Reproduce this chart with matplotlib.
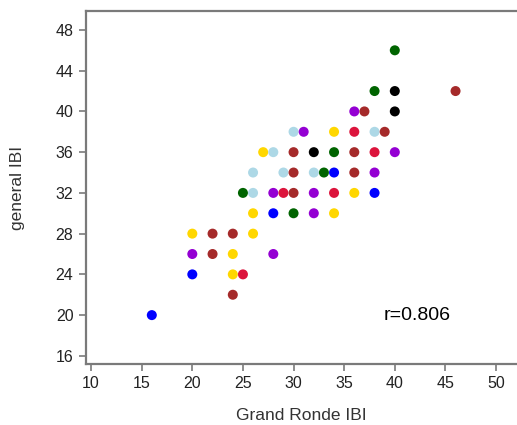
import matplotlib.pyplot as plt

plt.rcParams['font.family'] = ['Liberation Sans', 'DejaVu Sans']

# Grand Ronde IBI vs general IBI, one colour per group
grand_ronde = [16,
               20, 24, 25,
               24,
               20, 22, 24, 28,
               20, 22, 24, 26,
               26, 28, 30, 32, 34,
               25, 26, 28, 29, 30, 32, 34, 36, 38,
               26, 29, 30, 32, 33, 34, 36, 38,
               27, 28, 30, 32, 34, 36, 38, 40,
               30, 31, 34, 36, 38, 39,
               36, 37, 40,
               38, 40, 46,
               40]
general = [20,
           24, 24, 24,
           22,
           26, 26, 26, 26,
           28, 28, 28, 28,
           30, 30, 30, 30, 30,
           32, 32, 32, 32, 32, 32, 32, 32, 32,
           34, 34, 34, 34, 34, 34, 34, 34,
           36, 36, 36, 36, 36, 36, 36, 36,
           38, 38, 38, 38, 38, 38,
           40, 40, 40,
           42, 42, 42,
           46]
groups = ['blue',
          'blue', 'gold', 'crimson',
          'brown',
          'darkviolet', 'brown', 'gold', 'darkviolet',
          'gold', 'brown', 'brown', 'gold',
          'gold', 'blue', 'darkgreen', 'darkviolet', 'gold',
          'darkgreen', 'lightblue', 'darkviolet', 'crimson', 'brown', 'darkviolet', 'crimson', 'gold', 'blue',
          'lightblue', 'lightblue', 'brown', 'lightblue', 'darkgreen', 'blue', 'brown', 'darkviolet',
          'gold', 'lightblue', 'brown', 'black', 'darkgreen', 'brown', 'crimson', 'darkviolet',
          'lightblue', 'darkviolet', 'gold', 'crimson', 'lightblue', 'brown',
          'darkviolet', 'brown', 'black',
          'darkgreen', 'black', 'brown',
          'darkgreen']
r_value = 0.806

fig = plt.figure(figsize=(5.17, 4.25), dpi=100)
ax = fig.add_axes([86 / 517, 61 / 425, 1 - 86 / 517, 353 / 425])

ax.scatter(grand_ronde, general, c=groups, s=52, linewidths=0)

ax.set_xlim(9.5, 52.07)
ax.set_ylim(15.2, 49.86)
ax.set_xticks(range(10, 51, 5))
ax.set_yticks(range(16, 49, 4))

for side in ['left', 'bottom', 'top']:
    ax.spines[side].set_color('#7a7a7a')
    ax.spines[side].set_linewidth(1.6)
ax.spines['right'].set_visible(False)
ax.tick_params(direction='out', length=5, width=1.2, color='#7a7a7a',
               labelsize=11.5, labelcolor='#222222', pad=4)

ax.text(42.2, 20, 'r=%.3f' % r_value, fontsize=14, ha='center', va='center')

ax.set_xlabel('Grand Ronde IBI', fontsize=12.5, color='#333333', labelpad=12)
ax.set_ylabel('general IBI', fontsize=12.5, color='#333333', labelpad=22)

plt.savefig('out.png', dpi=100)
